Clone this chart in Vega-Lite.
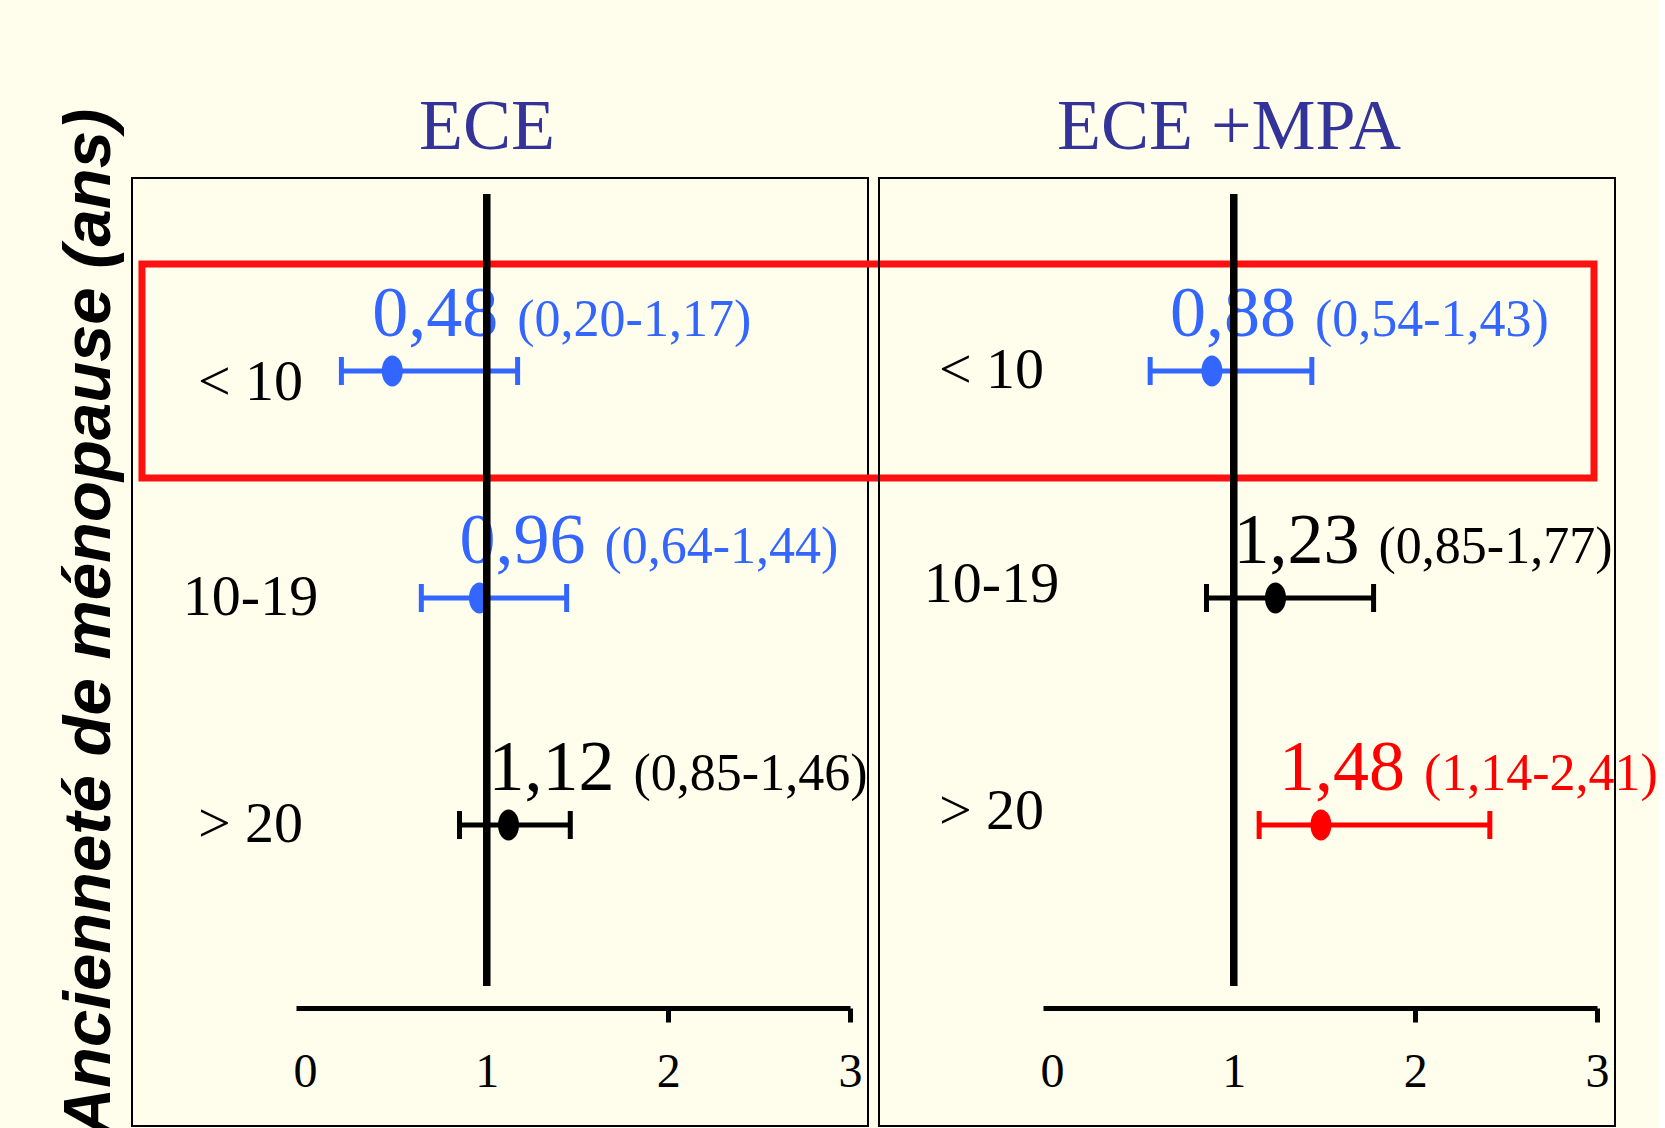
{
  "$schema": "https://vega.github.io/schema/vega-lite/v6.json",
  "background": "#FFFDEB",
  "padding": {"left": 55, "top": 90, "right": 0, "bottom": 0},
  "bounds": "flush",
  "spacing": 11,
  "title": {
    "text": "Ancienneté de ménopause (ans)",
    "orient": "left",
    "anchor": "middle",
    "frame": "bounds",
    "font": "Liberation Sans",
    "fontSize": 67,
    "fontWeight": "bold",
    "fontStyle": "italic",
    "color": "#000000",
    "baseline": "alphabetic",
    "offset": -46,
    "dx": -14
  },
  "datasets": {
    "hr": [
      {"traitement": "ECE", "age": "< 10", "hr": 0.48, "lo": 0.20, "hi": 1.17, "hr_txt": "0,48", "ic_txt": "(0,20-1,17)", "tendance": "baisse"},
      {"traitement": "ECE", "age": "10-19", "hr": 0.96, "lo": 0.64, "hi": 1.44, "hr_txt": "0,96", "ic_txt": "(0,64-1,44)", "tendance": "baisse"},
      {"traitement": "ECE", "age": "> 20", "hr": 1.12, "lo": 0.85, "hi": 1.46, "hr_txt": "1,12", "ic_txt": "(0,85-1,46)", "tendance": "hausse"},
      {"traitement": "ECE +MPA", "age": "< 10", "hr": 0.88, "lo": 0.54, "hi": 1.43, "hr_txt": "0,88", "ic_txt": "(0,54-1,43)", "tendance": "baisse"},
      {"traitement": "ECE +MPA", "age": "10-19", "hr": 1.23, "lo": 0.85, "hi": 1.77, "hr_txt": "1,23", "ic_txt": "(0,85-1,77)", "tendance": "hausse"},
      {"traitement": "ECE +MPA", "age": "> 20", "hr": 1.48, "lo": 1.14, "hi": 2.41, "hr_txt": "1,48", "ic_txt": "(1,14-2,41)", "tendance": "hausse significative"}
    ]
  },
  "hconcat": [
    {
      "width": 736,
      "height": 948,
      "title": {"text": "ECE", "dx": -13},
      "data": {"name": "hr"},
      "transform": [{"filter": "datum.traitement === 'ECE'"}],
      "layer": [
        {
          "encoding": {
            "y": {"field": "age", "type": "nominal",
              "scale": {"type": "band", "domain": ["< 10", "10-19", "> 20"], "range": [79.5, 760.5], "paddingInner": 0.0573, "paddingOuter": 0.0287},
              "axis": {"orient": "left", "offset": -118, "domain": false, "ticks": false, "tickSize": 0, "labelPadding": 0, "labelAlign": "center", "labelBaseline": "middle", "labelOffset": {"condition": {"test": "datum.value === '< 10'", "value": 12}, "value": 0}, "labelFont": "Liberation Serif", "labelFontSize": 58, "labelColor": "#000000", "title": null, "grid": false}},
            "color": {"field": "tendance", "type": "nominal", "scale": {"domain": ["baisse", "hausse", "hausse significative"], "range": ["#3366FF", "#000000", "#FF0000"]}, "legend": null}
          },
          "layer": [
            {
              "transform": [{"filter": "datum.age === '< 10'"}],
              "mark": {"type": "rect", "filled": false, "strokeWidth": 7},
              "encoding": {
                "x": {"datum": -0.898, "type": "quantitative", "scale": {"domain": [-0.05, 3], "range": [164, 718], "nice": false, "zero": false},
                  "axis": {"orient": "bottom", "offset": -118, "values": [0, 1, 2, 3], "title": null, "grid": false, "domain": true, "domainColor": "#000000", "domainWidth": 5, "ticks": true, "tickColor": "#000000", "tickWidth": 5, "tickSize": 14, "tickOpacity": {"condition": {"test": "datum.value < 1.5", "value": 0}, "value": 1}, "labelFont": "Liberation Serif", "labelFontSize": 48, "labelColor": "#000000", "labelBaseline": "alphabetic", "labelPadding": 64, "labelDx": 5, "labelFlush": false, "labelOverlap": false, "format": "d"}},
                "x2": {"datum": 7.096},
                "color": {"value": "#FF1010"}
              }
            },
            {
              "mark": {"type": "rule", "strokeWidth": 5},
              "encoding": {
                "x": {"field": "lo", "type": "quantitative", "scale": {"domain": [-0.05, 3], "range": [164, 718], "nice": false, "zero": false}, "title": null},
                "x2": {"field": "hi"}
              }
            },
            {
              "mark": {"type": "tick", "thickness": 5, "size": 28, "opacity": 1},
              "encoding": {"x": {"field": "lo", "type": "quantitative", "title": null}}
            },
            {
              "mark": {"type": "tick", "thickness": 5, "size": 28, "opacity": 1},
              "encoding": {"x": {"field": "hi", "type": "quantitative", "title": null}}
            },
            {
              "mark": {"type": "point", "shape": "M -0.68 0 A 0.68 1 0 1 0 0.68 0 A 0.68 1 0 1 0 -0.68 0 Z", "filled": true, "size": 961, "opacity": 1},
              "encoding": {"x": {"field": "hr", "type": "quantitative", "title": null}}
            },
            {
              "mark": {"type": "text", "align": "left", "baseline": "alphabetic", "dx": -20, "dy": -35, "font": "Liberation Serif", "fontSize": 72},
              "encoding": {"x": {"field": "hr", "type": "quantitative", "title": null}, "text": {"field": "hr_txt"}}
            },
            {
              "mark": {"type": "text", "align": "left", "baseline": "alphabetic", "dx": 125, "dy": -35, "font": "Liberation Serif", "fontSize": 52},
              "encoding": {"x": {"field": "hr", "type": "quantitative", "title": null}, "text": {"field": "ic_txt"}}
            }
          ]
        },
        {
          "mark": {"type": "rule", "color": "#000000", "strokeWidth": 7},
          "encoding": {
            "x": {"datum": 1, "type": "quantitative"},
            "y": {"datum": 0, "type": "quantitative", "scale": {"domain": [0, 1], "range": [16, 808], "nice": false, "zero": false}, "axis": null},
            "y2": {"datum": 1}
          }
        }
      ],
      "resolve": {"scale": {"y": "independent"}}
    },
    {
      "width": 736,
      "height": 948,
      "title": {"text": "ECE +MPA", "dx": -18},
      "data": {"name": "hr"},
      "transform": [{"filter": "datum.traitement === 'ECE +MPA'"}],
      "layer": [
        {
          "encoding": {
            "y": {"field": "age", "type": "nominal",
              "scale": {"type": "band", "domain": ["< 10", "10-19", "> 20"], "range": [79.5, 760.5], "paddingInner": 0.0573, "paddingOuter": 0.0287},
              "axis": {"orient": "left", "offset": -112, "domain": false, "ticks": false, "tickSize": 0, "labelPadding": 0, "labelAlign": "center", "labelBaseline": "middle", "labelOffset": {"condition": {"test": "datum.value === '< 10'", "value": 0}, "value": -13}, "labelFont": "Liberation Serif", "labelFontSize": 58, "labelColor": "#000000", "title": null, "grid": false}},
            "color": {"field": "tendance", "type": "nominal", "scale": {"domain": ["baisse", "hausse", "hausse significative"], "range": ["#3366FF", "#000000", "#FF0000"]}, "legend": null}
          },
          "layer": [
            {
              "mark": {"type": "rule", "strokeWidth": 5},
              "encoding": {
                "x": {"field": "lo", "type": "quantitative", "scale": {"domain": [-0.05, 3], "range": [164, 718], "nice": false, "zero": false},
                  "axis": {"orient": "bottom", "offset": -118, "values": [0, 1, 2, 3], "title": null, "grid": false, "domain": true, "domainColor": "#000000", "domainWidth": 5, "ticks": true, "tickColor": "#000000", "tickWidth": 5, "tickSize": 14, "tickOpacity": {"condition": {"test": "datum.value < 1.5", "value": 0}, "value": 1}, "labelFont": "Liberation Serif", "labelFontSize": 48, "labelColor": "#000000", "labelBaseline": "alphabetic", "labelPadding": 64, "labelDx": 5, "labelFlush": false, "labelOverlap": false, "format": "d"}},
                "x2": {"field": "hi"}
              }
            },
            {
              "mark": {"type": "tick", "thickness": 5, "size": 28, "opacity": 1},
              "encoding": {"x": {"field": "lo", "type": "quantitative", "title": null}}
            },
            {
              "mark": {"type": "tick", "thickness": 5, "size": 28, "opacity": 1},
              "encoding": {"x": {"field": "hi", "type": "quantitative", "title": null}}
            },
            {
              "mark": {"type": "point", "shape": "M -0.68 0 A 0.68 1 0 1 0 0.68 0 A 0.68 1 0 1 0 -0.68 0 Z", "filled": true, "size": 961, "opacity": 1},
              "encoding": {"x": {"field": "hr", "type": "quantitative", "title": null}}
            },
            {
              "mark": {"type": "text", "align": "left", "baseline": "alphabetic", "dx": -42, "dy": -35, "font": "Liberation Serif", "fontSize": 72},
              "encoding": {"x": {"field": "hr", "type": "quantitative", "title": null}, "text": {"field": "hr_txt"}}
            },
            {
              "mark": {"type": "text", "align": "left", "baseline": "alphabetic", "dx": 103, "dy": -35, "font": "Liberation Serif", "fontSize": 52},
              "encoding": {"x": {"field": "hr", "type": "quantitative", "title": null}, "text": {"field": "ic_txt"}}
            }
          ]
        },
        {
          "mark": {"type": "rule", "color": "#000000", "strokeWidth": 7},
          "encoding": {
            "x": {"datum": 1, "type": "quantitative"},
            "y": {"datum": 0, "type": "quantitative", "scale": {"domain": [0, 1], "range": [16, 808], "nice": false, "zero": false}, "axis": null},
            "y2": {"datum": 1}
          }
        }
      ],
      "resolve": {"scale": {"y": "independent"}}
    }
  ],
  "resolve": {"scale": {"x": "independent", "y": "independent", "color": "independent"}},
  "config": {
    "font": "Liberation Serif",
    "view": {"stroke": "#000000", "strokeWidth": 2},
    "title": {"font": "Liberation Serif", "fontSize": 72, "fontWeight": "normal", "color": "#333399", "baseline": "bottom", "offset": 14, "anchor": "middle", "frame": "group"}
  }
}
